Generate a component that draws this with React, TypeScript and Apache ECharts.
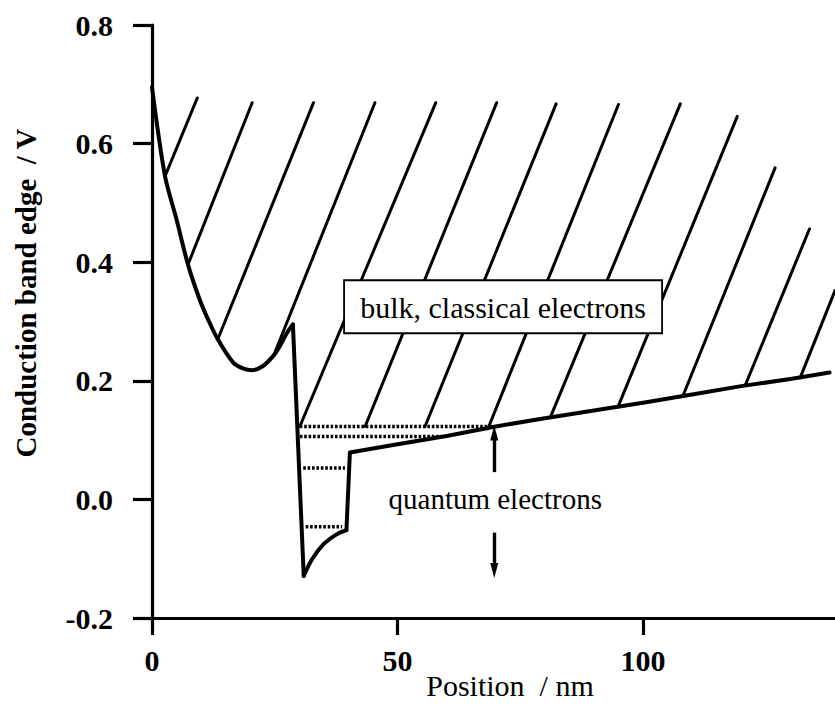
import React, { useEffect, useRef } from "react";
import * as echarts from "echarts";

// Axis ticks
const xTicks = [0, 50, 100];
const xMax = 139.1;
const yMin = -0.2;
const yMax = 0.8;

// Conduction band edge profile: position (nm) and energy (V), split into
// the curved barrier region, the quantum well and the linear bulk slope
const barrierX = [0, 2.65, 5.0, 7.33, 9.8, 11.5, 13.4, 16.5, 18.5, 20.4, 22.6, 24.7, 26.0, 27.5, 28.7];
const barrierY = [0.695, 0.545, 0.472, 0.396, 0.335, 0.302, 0.270, 0.231, 0.221, 0.218, 0.225, 0.242, 0.258, 0.281, 0.295];
const wallX = [28.7, 30.9];
const wallY = [0.295, -0.129];
const wellX = [30.9, 32.6, 34.9, 37.6, 39.6];
const wellY = [-0.129, -0.101, -0.076, -0.059, -0.052];
const slopeX = [39.6, 40.3, 50, 60, 70, 80, 90, 100, 110, 120, 130, 138];
const slopeY = [-0.052, 0.079, 0.093, 0.107, 0.123, 0.137, 0.150, 0.163, 0.177, 0.191, 0.203, 0.214];

// Confined subband levels in the well
const levelE = [0.123, 0.106, 0.053, -0.046];
const levelFrom = [30.1, 30.1, 30.8, 31.3];
const levelTo = [69.3, 59.0, 39.3, 38.7];

// Hatching of the classical (bulk) region: bottom and top ends of each stroke
const hatchBottomX = [2.65, 7.33, 13.4, 24.8, 30.1, 43.4, 55.6, 68.6, 81.1, 94.9, 108.1, 120.8, 132.0];
const hatchBottomY = [0.545, 0.396, 0.270, 0.243, 0.123, 0.123, 0.123, 0.123, 0.138, 0.156, 0.174, 0.192, 0.205];
const hatchTopX = [9.23, 20.4, 32.9, 45.4, 57.8, 70.2, 82.3, 95.0, 107.6, 119.2, 126.9, 133.9, 139.1];
const hatchTopY = [0.677, 0.669, 0.669, 0.669, 0.669, 0.669, 0.667, 0.666, 0.667, 0.646, 0.559, 0.456, 0.352];

// Arrows marking the quantum region
const arrowX = 69.7;
const arrowUp = [0.046, 0.112];
const arrowDown = [-0.056, -0.12];

// Label anchors (data coordinates)
const bulkLabelAt = [71.5, 0.324];
const quantumLabelAt = [69.9, 0.0];

const SERIF = "'Liberation Serif', 'Times New Roman', serif";
const INK = "#000";

const bandSeries = (xs: number[], ys: number[], smooth: number) => ({
  type: "line",
  data: xs.map((x, i) => [x, ys[i]]),
  symbol: "none",
  silent: true,
  smooth,
  z: 5,
  lineStyle: { color: INK, width: 4, join: "round", cap: "round" },
});

export default function App() {
  const ref = useRef<HTMLDivElement>(null);

  useEffect(() => {
    document.body.style.margin = "0";
    if (!ref.current) return;
    const chart = echarts.init(ref.current, undefined, { renderer: "svg" });

    const hatchSeries = hatchBottomX.map((bx, i) => ({
      type: "line",
      data: [[bx, hatchBottomY[i]], [hatchTopX[i], hatchTopY[i]]],
      symbol: "none",
      silent: true,
      z: 3,
      lineStyle: { color: INK, width: 3, cap: "round" },
    }));

    const levelSeries = levelE.map((e, i) => ({
      type: "line",
      data: [[levelFrom[i], e], [levelTo[i], e]],
      symbol: "none",
      silent: true,
      z: 4,
      lineStyle: { color: INK, width: 3.6, type: [2.6, 1.8] },
    }));

    chart.setOption({
      animation: false,
      backgroundColor: "#fff",
      grid: { left: 152, right: 0, top: 25, bottom: 99 },
      xAxis: {
        type: "value",
        min: 0,
        max: xMax,
        interval: 50,
        axisLine: { onZero: false, lineStyle: { color: INK, width: 3.2 } },
        axisTick: { length: 17, customValues: xTicks, lineStyle: { color: INK, width: 3.2 } },
        axisLabel: {
          customValues: xTicks,
          margin: 27,
          color: INK,
          fontFamily: SERIF,
          fontSize: 30,
          fontWeight: "bold",
        },
        splitLine: { show: false },
      },
      yAxis: {
        type: "value",
        min: yMin,
        max: yMax,
        interval: 0.2,
        axisLine: { onZero: false, lineStyle: { color: INK, width: 3.2 } },
        axisTick: { length: 19, lineStyle: { color: INK, width: 3.2 } },
        axisLabel: {
          margin: 39,
          color: INK,
          fontFamily: SERIF,
          fontSize: 30,
          fontWeight: "bold",
          formatter: (v: number) => v.toFixed(1),
        },
        splitLine: { show: false },
      },
      series: [
        ...hatchSeries,
        ...levelSeries,
        bandSeries(barrierX, barrierY, 0.3),
        bandSeries(wallX, wallY, 0),
        bandSeries(wellX, wellY, 0.3),
        bandSeries(slopeX, slopeY, 0),
        {
          type: "line",
          data: [],
          silent: true,
          markLine: {
            silent: true,
            symbol: ["none", "triangle"],
            symbolSize: [8, 15],
            label: { show: false },
            lineStyle: { color: INK, width: 3.4, type: "solid" },
            data: [
              [{ coord: [arrowX, arrowUp[0]] }, { coord: [arrowX, arrowUp[1]] }],
              [{ coord: [arrowX, arrowDown[0]] }, { coord: [arrowX, arrowDown[1]] }],
            ],
          },
        },
      ],
    });

    const [bx, by] = chart.convertToPixel({ gridIndex: 0 }, bulkLabelAt) as number[];
    const [qx, qy] = chart.convertToPixel({ gridIndex: 0 }, quantumLabelAt) as number[];

    chart.setOption({
      graphic: [
        {
          type: "rect",
          z: 100,
          shape: { x: bx - 159, y: by - 27, width: 318, height: 53 },
          style: { fill: "#fff", stroke: INK, lineWidth: 1.8 },
        },
        {
          type: "text",
          z: 101,
          x: bx,
          y: by,
          style: {
            text: "bulk, classical electrons",
            fill: INK,
            fontFamily: SERIF,
            fontSize: 30,
            align: "center",
            verticalAlign: "middle",
          },
        },
        {
          type: "text",
          z: 101,
          x: qx,
          y: qy,
          style: {
            text: "quantum electrons",
            fill: INK,
            fontFamily: SERIF,
            fontSize: 29,
            align: "center",
            verticalAlign: "middle",
          },
        },
        {
          type: "text",
          z: 101,
          x: 510,
          y: 685,
          style: {
            text: "Position  / nm",
            fill: INK,
            fontFamily: SERIF,
            fontSize: 30,
            align: "center",
            verticalAlign: "middle",
          },
        },
        {
          type: "text",
          z: 101,
          x: 26,
          y: 293,
          rotation: Math.PI / 2,
          style: {
            text: "Conduction band edge  / V",
            fill: INK,
            fontFamily: SERIF,
            fontSize: 29,
            fontWeight: "bold",
            align: "center",
            verticalAlign: "middle",
          },
        },
      ],
    });

    return () => chart.dispose();
  }, []);

  return <div ref={ref} style={{ width: 835, height: 717 }} />;
}
